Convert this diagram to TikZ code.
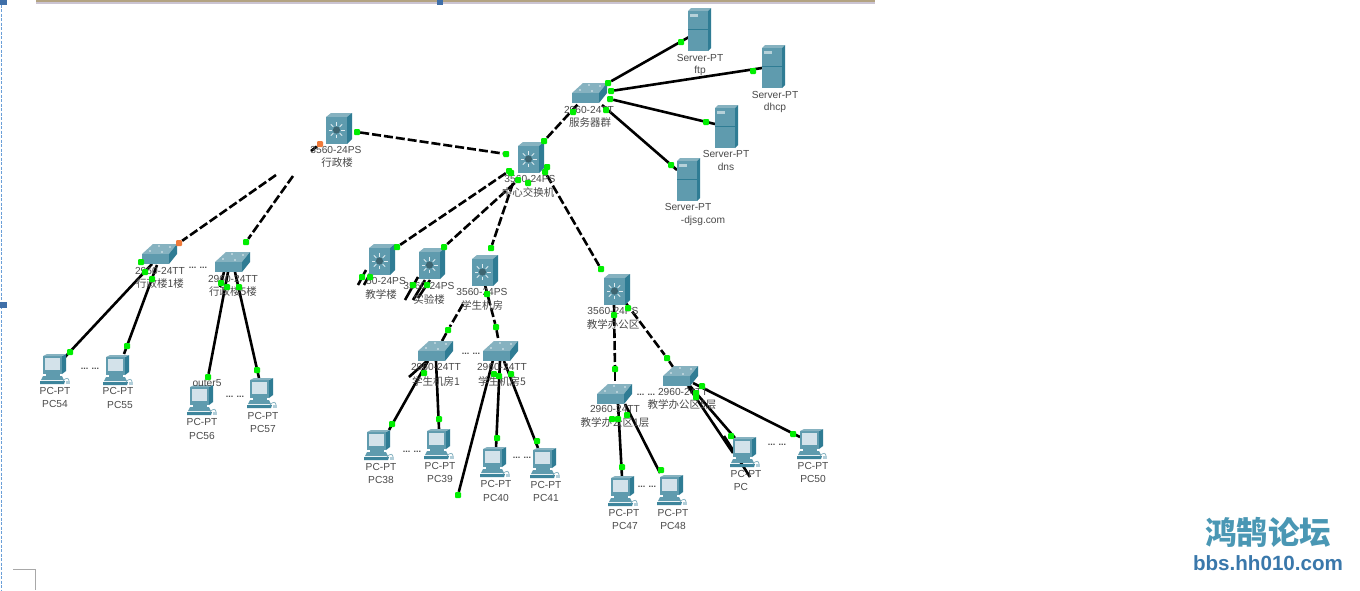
\documentclass[tikz,border=0pt]{standalone}
\usepackage{fontspec}
\setmainfont{Liberation Sans}
\newfontfamily\cjk{Noto Sans CJK SC}
\pgfdeclarelayer{bg}
\pgfdeclarelayer{links}
\pgfsetlayers{bg,links,main}
\definecolor{dev}{HTML}{5F9BAE}
\definecolor{devtop}{HTML}{86B2C0}
\definecolor{devside}{HTML}{2F7C94}
\definecolor{scr}{HTML}{D3E2EA}
\definecolor{lbl}{HTML}{4A4A4A}
\definecolor{grn}{HTML}{00EE00}
\definecolor{org}{HTML}{F07A3A}
\definecolor{band}{HTML}{B3A382}
\definecolor{bandlow}{HTML}{CBC4D2}
\definecolor{handle}{HTML}{3F6FA8}
\definecolor{guide}{HTML}{6A9FD8}
\definecolor{corner}{HTML}{A8A8A8}
\definecolor{wmteal}{HTML}{4A97B4}
\definecolor{wmblue}{HTML}{3A78AB}
\tikzset{
  x=1pt,y=-1pt,
  lab/.style={font=\fontsize{10.2}{11}\selectfont,text=lbl,inner sep=0pt},
  labc/.style={font=\cjk\fontsize{10.5}{11}\selectfont,text=lbl,inner sep=0pt},
  dot/.style={fill=grn,rounded corners=1pt,minimum size=6pt,inner sep=0pt},
  odot/.style={fill=org,rounded corners=1pt,minimum size=6pt,inner sep=0pt},
  link/.style={line width=2.6pt,black},
  dlink/.style={line width=2.6pt,black,dash pattern=on 9pt off 3pt},
  ell/.style={font=\fontsize{9}{10}\selectfont\bfseries,text=lbl,inner sep=0pt},
  sw3560/.pic={
    \fill[devtop] (0,4)--(5,0)--(26,0)--(21,4)--cycle;
    \fill[dev] (0,4) rectangle (21,31);
    \fill[devside] (21,4)--(26,0)--(26,26)--(21,31)--cycle;
    \foreach \a in {0,45,...,315}
      \draw[white!80!dev,line width=.8pt] (10.5,17)++(\a:4.5)--++(\a:3.5);
    \fill[black!35!dev] (10.5,17) circle (3.6);
  },
  sw2960/.pic={
    \fill[devtop] (0,10)--(11,0)--(35,0)--(27,10)--cycle;
    \fill[dev] (0,10) rectangle (27,20);
    \fill[devside] (27,10)--(35,0)--(35,10)--(27,20)--cycle;
    \foreach \p/\q in {8/7,17/2,20/8,28/3}
      \fill[white!80!devtop] (\p,\q) circle (.8);
  },
  server/.pic={
    \fill[devtop] (0,3)--(3,0)--(23,0)--(20,3)--cycle;
    \fill[dev] (0,3) rectangle (20,43);
    \fill[devside] (20,3)--(23,0)--(23,40)--(20,43)--cycle;
    \fill[devtop!60!white] (2,6) rectangle (10,9);
    \draw[devside,line width=.4pt] (0,21)--(20,21);
  },
  pc/.pic={
    \fill[devside] (22,2)--(26,0)--(26,17)--(22,20)--cycle;
    \fill[dev] (3,2) rectangle (22,20);
    \fill[devtop] (3,2)--(7,0)--(26,0)--(22,2)--cycle;
    \fill[scr] (5,4) rectangle (20,16);
    \fill[dev] (6,20) rectangle (20,22);
    \fill[dev] (3,22)--(22,22)--(24,26)--(1,26)--cycle;
    \fill[devside!70!dev] (0,27)--(25,27)--(24,30)--(0,30)--cycle;
    \draw[devtop,line width=.8pt] (23,27) .. controls (26,23) and (29,24) .. (29,27);
    \fill[scr!70!dev] (26,27) rectangle (30,30);
  }
}
\begin{document}
\begin{tikzpicture}
\useasboundingbox (0,0) rectangle (1360,590);
\begin{pgfonlayer}{bg}
\fill[white] (0,0) rectangle (1360,590);
\end{pgfonlayer}
% page chrome
\fill[band] (36,0) rectangle (875,2);
\fill[bandlow] (36,2) rectangle (875,3.5);
\draw[guide,line width=1pt,dash pattern=on 3pt off 1.5pt] (1.5,0)--(1.5,590);
\fill[handle] (0,0) rectangle (7,5);
\fill[handle] (437,0) rectangle (443,5);
\fill[handle] (0,302) rectangle (7,308);
\draw[corner,line width=1pt] (13,569.5)--(35.5,569.5)--(35.5,590);
% devices
\foreach \x/\y in {688/8,762/45,715/105,677/158} \pic at (\x,\y) {server};
\foreach \x/\y in {518/142,326/113,369/244,419/248,472/255,604/274} \pic at (\x,\y) {sw3560};
\foreach \x/\y in {572/83,142/244,215/252,418/341,483/341,597/384,663/366} \pic at (\x,\y) {sw2960};
\foreach \x/\y in {40/354,103/355,187/385,247/378,364/430,424/429,480/447,530/448,608/476,657/475,730/437,797/429} \pic at (\x,\y) {pc};
% labels
\foreach \n/\x/\y/\t in {
 t1/700/58/Server-PT, t2/700/71/ftp, t3/775/95/Server-PT, t4/775/108/dhcp,
 t5/726/154/Server-PT, t6/726/167/dns, t7/688/207/Server-PT, t8/703/221/-djsg.com,
 t9/589/110/2960-24TT, t10/530/179/3560-24PS, t11/336/150/3560-24PS,
 t12/160/271/2960-24TT, t13/233/279/2960-24TT,
 t14/55/391/PC-PT, t15/55/404/PC54, t16/118/391/PC-PT, t17/120/405/PC55,
 t18/202/422/PC-PT, t19/202/436/PC56, t20/263/416/PC-PT, t21/263/429/PC57,
 t22/386/281/50-24PS, t23/429/286/3560-24PS, t24/482/292/3560-24PS,
 t25/436/367/2960-24TT, t26/502/367/2960-24TT,
 t27/381/467/PC-PT, t28/381/480/PC38, t29/440/466/PC-PT, t30/440/479/PC39,
 t31/496/484/PC-PT, t32/496/498/PC40, t33/546/485/PC-PT, t34/546/498/PC41,
 t35/613/311/3560-24PS, t36/615/409/2960-24TT, t37/683/392/2960-24TT,
 t38/624/513/PC-PT, t39/625/526/PC47, t40/673/513/PC-PT, t41/673/526/PC48,
 t42/746/474/PC-PT, t43/741/487/PC, t44/813/466/PC-PT, t45/813/479/PC50,
 t46/207/383/outer5}
  \node[lab] (\n) at (\x,\y) {\t};
\foreach \n/\x/\y/\t in {
 c1/590/123/服务器群, c2/528/192/中心交换机, c3/337/163/行政楼,
 c4/160/284/行政楼1楼, c5/233/292/行政楼5楼, c6/381/294/教学楼, c7/429/299/实验楼,
 c8/482/305/学生机房, c9/436/381/学生机房1, c10/502/381/学生机房5,
 c11/613/324/教学办公区, c12/615/423/教学办公区1层, c13/682/405/教学办公区5层}
  \node[labc] (\n) at (\x,\y) {\t};
\foreach \n/\x/\y in {e1/198/268,e2/90/369,e3/235/397,e4/412/452,e5/471/354,e6/522/458,
 e7/646/395,e8/647/487,e9/777/445}
  \node[ell] (\n) at (\x,\y) {... ...};
% watermark
\node[font=\cjk\bfseries\fontsize{31.5}{33}\selectfont,text=wmteal,inner sep=0pt] (wm1) at (1268,532) {鸿鹄论坛};
\node[font=\bfseries\fontsize{20.6}{22}\selectfont,text=wmblue,inner sep=0pt] (wm2) at (1268,563) {bbs.hh010.com};
% link end marks
\foreach \n/\x/\y in {
 dad/357/132,dc1/506/154,dc2/544/141,dc3/509/171,dc3b/511/173,dc5/518/180,dc6/528/183,dc7/547/167,dc8/545/172,
 dsa/573/112,dsb/606/110,ds1/608/83,ds2/611/91,ds3/610/99,
 dftp/681/42,ddhcp/753/71,ddns/706/122,dweb/671/165,
 dx/246/242,dm1/145/272,dm2/152/279,dm3/141/262,dp54/70/352,dp55/127/346,
 dn1/221/283,dn2/227/287,dn3/239/287,dp56/208/377,dp57/257/370,
 dj1/397/247,dj2/444/247,dj3/491/248,dj4/362/277,dj5/370/277,dj6/413/285,dj7/427/285,
 dl1/487/294,dl2/448/330,dl3/496/327,dl4/424/373,dl5/494/374,dl6/499/376,dl7/511/374,
 dp38/392/424,dp39/439/419,dp40/497/438,dp41/537/441,dlone/458/495,
 do0/601/269,do1/614/315,do2/628/308,do3/615/369,do4/667/358,
 do5/612/419,do6/618/419,do7/627/415,dp47/622/467,dp48/661/470,
 do8/702/386,do9/696/393,do10/696/397,dpc/731/436,dp50/793/434}
  \node[dot] (\n) at (\x,\y) {};
\node[odot] (orA) at (320,144) {};
\node[odot] (orB) at (179,243) {};
% free link ends
\foreach \n/\x/\y in {
 f1/578/104,f2/689/37,f3/762/68,f4/715/124,f5/602/105,f6/677/170,
 f7/152/264,f8/65/357,f9/157/265,f10/124/354,f11/228/272,f12/224/272,f13/220/287,f14/235/272,f15/259/378,
 f16/540/187,f17/517/165,f18/513/183,f19/493/240,f20/358/285,f21/366/270,f22/364/285,f23/372/270,
 f24/418/277,f25/405/300,f26/425/280,f27/413/300,f28/430/280,f29/418/298,
 f30/463/304,f31/442/341,f32/485/285,f33/498/338,f34/428/361,f35/389/430,f36/427/361,f37/409/377,
 f38/436/361,f39/439/429,f40/493/360,f41/500/361,f42/496/448,f43/504/361,f44/538/448,
 f45/614/305,f46/615/384,f47/625/302,f48/673/367,f49/618/404,f50/622/477,f51/625/404,f52/660/473,
 f53/688/386,f54/733/453,f55/690/386,f56/735/438,f57/693/383,f58/800/437,f59/724/436,f60/750/477,
 g1/311/151,g2/276/175,g3/293/176}
  \coordinate (\n) at (\x,\y);
% connectors
\begin{pgfonlayer}{links}
\foreach \a/\b in {dad/dc1,dc2/f1,g2/orB,g3/dx,dc3/dj1,dc5/dj2,f18/dj3,dc8/do0,
  f30/dl2,dl2/f31,f32/dl3,dl3/f33,f45/do3,do3/f46,f47/do4,do4/f48}
  \draw[dlink] (\a) -- (\b);
\foreach \a/\b in {orA/g1,ds1/f2,ds2/f3,ds3/f4,f5/f6,f7/f8,f9/f10,f11/dp56,f12/f13,f14/f15,
  f20/f21,f22/f23,f24/f25,f26/f27,f28/f29,
  f34/f35,f36/f37,f38/f39,f40/dlone,f41/f42,f43/f44,
  f49/f50,f51/f52,f53/f54,f55/f56,f57/f58,f59/f60}
  \draw[link] (\a) -- (\b);
\end{pgfonlayer}
\end{tikzpicture}
\end{document}
